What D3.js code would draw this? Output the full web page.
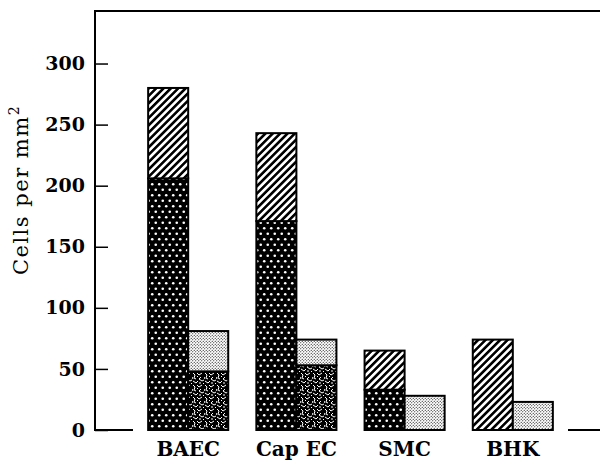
<html>
<head>
<script src="https://d3js.org/d3.v7.min.js"></script>
<style>
  body { margin: 0; background: #fff; }
  text { font-family: "DejaVu Serif", serif; }
</style>
</head>
<body>
<svg id="chart" width="602" height="464"></svg>
<script>
// values (cells per mm^2)
var categories = ["BAEC", "Cap EC", "SMC", "BHK"];
var leftLower  = [206, 171, 33, 0];   // dotted part of left bar
var leftTotal  = [280, 243, 65, 74];  // top of hatched part
var rightLower = [48, 53, 0, 0];      // squiggle part of right bar
var rightTotal = [81, 74, 28, 23];    // top of fine-dot part
var yTicks = [0, 50, 100, 150, 200, 250, 300];

var svg = d3.select("#chart");
var defs = svg.append("defs");

// diagonal hatch
var hatch = defs.append("pattern").attr("id", "hatch")
    .attr("patternUnits", "userSpaceOnUse").attr("width", 5.2).attr("height", 5.2)
    .attr("patternTransform", "rotate(45)");
hatch.append("rect").attr("width", 5.2).attr("height", 5.2).attr("fill", "#fff");
hatch.append("rect").attr("width", 2.6).attr("height", 5.2).attr("fill", "#000");

// black with white dots
var dots = defs.append("pattern").attr("id", "dots")
    .attr("patternUnits", "userSpaceOnUse").attr("width", 7).attr("height", 11);
dots.append("rect").attr("width", 7).attr("height", 11).attr("fill", "#000");
dots.append("circle").attr("cx", 1.75).attr("cy", 2.75).attr("r", 1.3).attr("fill", "#fff");
dots.append("circle").attr("cx", 5.25).attr("cy", 8.25).attr("r", 1.3).attr("fill", "#fff");

// fine stipple
var fine = defs.append("pattern").attr("id", "fine")
    .attr("patternUnits", "userSpaceOnUse").attr("width", 3).attr("height", 3);
fine.append("rect").attr("width", 3).attr("height", 3).attr("fill", "#fff");
fine.append("circle").attr("cx", 0.75).attr("cy", 0.75).attr("r", 0.6).attr("fill", "#000");
fine.append("circle").attr("cx", 2.25).attr("cy", 2.25).attr("r", 0.6).attr("fill", "#000");

// black with white squiggles
var worm = defs.append("pattern").attr("id", "worm")
    .attr("patternUnits", "userSpaceOnUse").attr("width", 12).attr("height", 12);
worm.append("rect").attr("width", 12).attr("height", 12).attr("fill", "#000");
worm.append("path")
    .attr("d", "M1,1 L3,3 L2,6 L4,7 M5,1 L7,3 L10,1 M9,5 L7,7 L10,9 L12,8 M1,9 L4,11 L6,9 M11,11 L12,12 M5,4 L6,5 M0,5 L1,7 M8,10 L8,12")
    .attr("stroke", "#fff").attr("stroke-width", 1).attr("fill", "none");

var y = d3.scaleLinear().domain([0, 343]).range([430, 11]);
var x = d3.scaleBand().domain(categories).range([133, 568])
    .paddingInner(0.26).paddingOuter(0.14);
var xLeft = 95;

// frame: left axis, top line, baseline pieces
svg.append("path")
    .attr("d", "M600," + y(343) + "H" + xLeft + "V" + y(0) + "H" + x.range()[0])
    .attr("fill", "none").attr("stroke", "#000").attr("stroke-width", 2);
svg.append("line")
    .attr("x1", x.range()[1]).attr("x2", 600).attr("y1", y(0)).attr("y2", y(0))
    .attr("stroke", "#000").attr("stroke-width", 2);

var yAxis = svg.append("g").attr("transform", "translate(" + xLeft + ",0)")
    .call(d3.axisLeft(y).tickValues(yTicks).tickSizeInner(-13).tickSizeOuter(0).tickPadding(10));
yAxis.select(".domain").remove();
yAxis.selectAll(".tick line").attr("stroke", "#000").attr("stroke-width", 1.5);
yAxis.selectAll(".tick text")
    .attr("font-family", "DejaVu Serif").attr("font-weight", "bold")
    .attr("font-size", 19).attr("fill", "#000");

// bars
var half = x.bandwidth() / 2;
var segs = [];
categories.forEach(function (c, i) {
  var x0 = x(c);
  if (leftLower[i] > 0) segs.push({x: x0, lo: 0, hi: leftLower[i], f: "dots"});
  segs.push({x: x0, lo: leftLower[i], hi: leftTotal[i], f: "hatch"});
  if (rightLower[i] > 0) segs.push({x: x0 + half, lo: 0, hi: rightLower[i], f: "worm"});
  segs.push({x: x0 + half, lo: rightLower[i], hi: rightTotal[i], f: "fine"});
});
svg.append("g").selectAll("rect").data(segs).enter().append("rect")
    .attr("x", function (d) { return d.x; })
    .attr("y", function (d) { return y(d.hi); })
    .attr("width", half)
    .attr("height", function (d) { return y(d.lo) - y(d.hi); })
    .attr("fill", function (d) { return "url(#" + d.f + ")"; })
    .attr("stroke", "#000").attr("stroke-width", 2);

// category labels
svg.append("g").selectAll("text").data(categories).enter().append("text")
    .attr("x", function (d) { return x(d) + half; })
    .attr("y", 456)
    .attr("text-anchor", "middle")
    .attr("font-weight", "bold").attr("font-size", 20)
    .text(function (d) { return d; });

// y label
var yl = svg.append("text")
    .attr("transform", "translate(28,190) rotate(-90)")
    .attr("text-anchor", "middle").attr("font-size", 21)
    .attr("letter-spacing", 1.5);
yl.append("tspan").text("Cells per mm");
yl.append("tspan").attr("dy", -9).attr("font-size", 14).text("2");
</script>
</body>
</html>
